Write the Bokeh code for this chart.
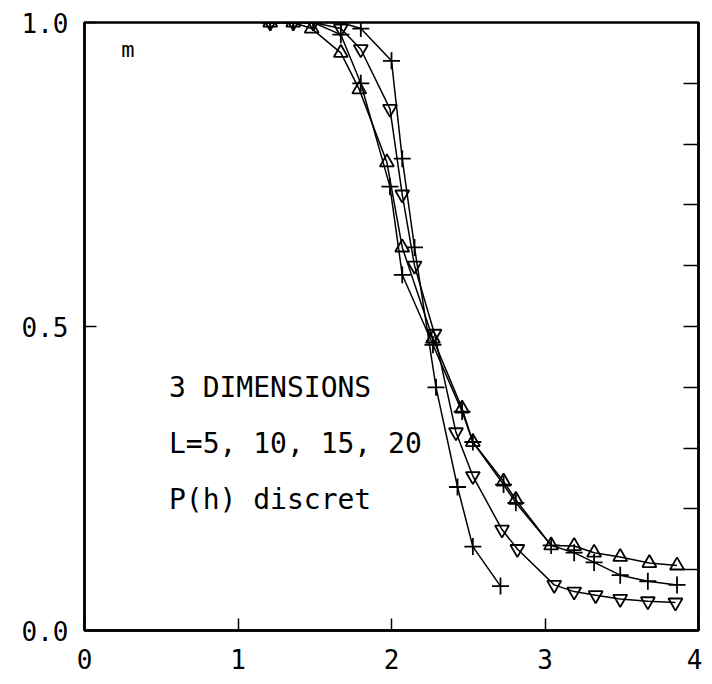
from bokeh.plotting import figure
from bokeh.models import FixedTicker, LinearAxis, Label
from bokeh.embed import file_html
from bokeh.resources import INLINE

# ---- data ----
h_tri = [1.21, 1.36, 1.48, 1.67, 1.79, 1.97, 2.07, 2.27, 2.46, 2.53, 2.73, 2.81, 3.04, 3.19, 3.32, 3.49, 3.68, 3.86]
m_tri = [1.0, 1.0, 0.99, 0.95, 0.89, 0.77, 0.63, 0.48, 0.365, 0.31, 0.245, 0.215, 0.14, 0.139, 0.128, 0.121, 0.111, 0.107]

h_plus_a = [1.21, 1.36, 1.49, 1.67, 1.80, 1.99, 2.07, 2.27, 2.46, 2.53, 2.73, 2.81, 3.04, 3.19, 3.32, 3.49, 3.67, 3.86]
m_plus_a = [1.0, 1.0, 1.0, 0.98, 0.90, 0.73, 0.585, 0.47, 0.36, 0.31, 0.24, 0.21, 0.14, 0.128, 0.112, 0.091, 0.081, 0.075]

h_inv = [1.21, 1.36, 1.49, 1.67, 1.80, 1.99, 2.07, 2.15, 2.28, 2.42, 2.53, 2.72, 2.82, 3.06, 3.19, 3.33, 3.49, 3.67, 3.85]
m_inv = [1.0, 1.0, 1.0, 0.99, 0.956, 0.858, 0.717, 0.60, 0.488, 0.326, 0.254, 0.166, 0.134, 0.075, 0.064, 0.058, 0.052, 0.048, 0.046]

h_plus_b = [1.21, 1.36, 1.49, 1.67, 1.80, 2.00, 2.07, 2.15, 2.29, 2.43, 2.53, 2.71]
m_plus_b = [1.0, 1.0, 1.0, 1.0, 0.99, 0.937, 0.776, 0.63, 0.40, 0.236, 0.138, 0.073]

x_ticks = [0, 1, 2, 3, 4]
y_label_ticks = [0.0, 0.5, 1.0]
y_label_text = {0.0: "0.0", 0.5: "0.5", 1.0: "1.0"}
right_ticks = [0.1, 0.2, 0.3, 0.4, 0.5, 0.6, 0.7, 0.8, 0.9]

annotations = ["3 DIMENSIONS", "L=5, 10, 15, 20", "P(h) discret"]
y_title = "m"

FONT = "DejaVu Sans Mono"

p = figure(width=702, height=676, x_range=(0, 4), y_range=(0, 1),
           output_backend="svg", toolbar_location=None,
           min_border_left=84, min_border_right=4, min_border_top=22, min_border_bottom=46,
           x_axis_location=None, y_axis_location=None)
p.xgrid.visible = False
p.ygrid.visible = False
p.outline_line_color = "black"
p.outline_line_width = 2.5
p.background_fill_color = "white"
p.border_fill_color = "white"

# left axis
la = LinearAxis(ticker=FixedTicker(ticks=y_label_ticks))
la.major_label_overrides = y_label_text
la.major_tick_in = 12
la.major_tick_out = 0
la.minor_tick_in = 0
la.minor_tick_out = 0
la.axis_line_width = 2.5
la.major_tick_line_width = 1.5
la.major_label_standoff = 16
la.major_label_text_font = FONT
la.major_label_text_font_size = "26px"
la.major_label_text_color = "black"
p.add_layout(la, "left")

# bottom axis
ba = LinearAxis(ticker=FixedTicker(ticks=x_ticks))
ba.major_tick_in = 12
ba.major_tick_out = 0
ba.minor_tick_in = 0
ba.minor_tick_out = 0
ba.axis_line_width = 2.5
ba.major_tick_line_width = 1.5
ba.major_label_standoff = 18
ba.major_label_text_font = FONT
ba.major_label_text_font_size = "26px"
ba.major_label_text_color = "black"
p.add_layout(ba, "below")

# right axis: inward ticks only, labels hidden
ra = LinearAxis(ticker=FixedTicker(ticks=right_ticks))
ra.major_tick_in = 15
ra.major_tick_out = 0
ra.minor_tick_in = 0
ra.minor_tick_out = 0
ra.axis_line_width = 2.5
ra.major_tick_line_width = 1.5
ra.major_label_text_font_size = "0px"
p.add_layout(ra, "right")

LW = 1.5
# triangle up series
p.line(h_tri, m_tri, line_color="black", line_width=LW)
p.scatter(h_tri, m_tri, marker="triangle", size=14, line_color="black",
          line_width=1.8, fill_alpha=0)
# plus series (upper tail)
p.line(h_plus_a, m_plus_a, line_color="black", line_width=LW)
p.scatter(h_plus_a, m_plus_a, marker="cross", size=17, line_color="black", line_width=1.8)
# inverted triangle series
p.line(h_inv, m_inv, line_color="black", line_width=LW)
p.scatter(h_inv, m_inv, marker="inverted_triangle", size=14, line_color="black",
          line_width=1.8, fill_alpha=0)
# plus series (steep)
p.line(h_plus_b, m_plus_b, line_color="black", line_width=LW)
p.scatter(h_plus_b, m_plus_b, marker="cross", size=17, line_color="black", line_width=1.8)

# annotations
ys = [0.40, 0.307, 0.215]
for txt, yy in zip(annotations, ys):
    p.add_layout(Label(x=0.55, y=yy, text=txt, text_font=FONT, text_font_size="28px",
                       text_color="black", text_baseline="alphabetic"))
p.add_layout(Label(x=0.24, y=0.955, text=y_title, text_font=FONT, text_font_size="22px",
                   text_color="black", text_baseline="middle"))

open("out.html", "w").write(file_html(p, INLINE))
